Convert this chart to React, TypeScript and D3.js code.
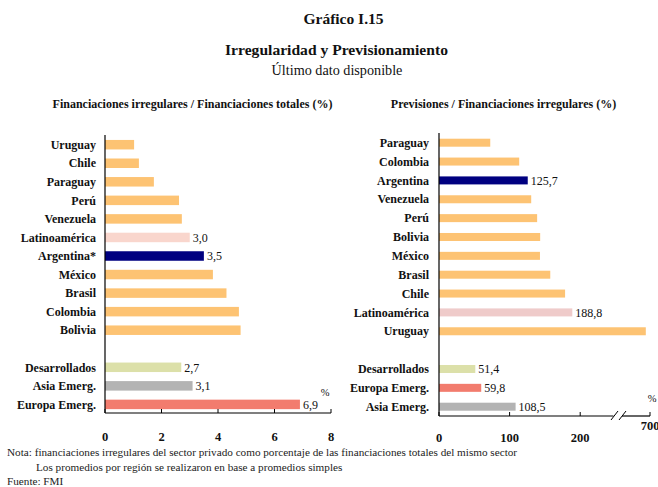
import React from "react";
import * as d3 from "d3";

const leftCategories = ["Uruguay", "Chile", "Paraguay", "Perú", "Venezuela", "Latinoamérica", "Argentina*", "México", "Brasil", "Colombia", "Bolivia", "", "Desarrollados", "Asia Emerg.", "Europa Emerg."];
const leftValues = [1.03, 1.2, 1.73, 2.62, 2.72, 3.0, 3.5, 3.82, 4.3, 4.74, 4.8, null, 2.7, 3.1, 6.9];
const leftLabels = ["", "", "", "", "", "3,0", "3,5", "", "", "", "", "", "2,7", "3,1", "6,9"];
const leftTicks = [0, 2, 4, 6, 8];

const rightCategories = ["Paraguay", "Colombia", "Argentina", "Venezuela", "Perú", "Bolivia", "México", "Brasil", "Chile", "Latinoamérica", "Uruguay", "", "Desarrollados", "Europa Emerg.", "Asia Emerg."];
const rightValues = [72.6, 113.6, 125.7, 130.6, 139, 143.3, 143, 157.6, 178.6, 188.8, 694, null, 51.4, 59.8, 108.5];
const rightLabels = ["", "", "125,7", "", "", "", "", "", "", "188,8", "", "", "51,4", "59,8", "108,5"];
const rightTicks = [0, 100, 200, 700];

const colorOrange = "#FDC373";
const colorLeft = ["o", "o", "o", "o", "o", "latL", "arg", "o", "o", "o", "o", "", "des", "asia", "eur"];
const colorRight = ["o", "o", "arg", "o", "o", "o", "o", "o", "o", "latR", "o", "", "des", "eur", "asia"];
const palette: Record<string, string> = {
  o: colorOrange,
  arg: "#000080",
  latL: "#F9D6CD",
  latR: "#EFCBCA",
  des: "#DCE0A9",
  asia: "#B3B3B3",
  eur: "#F27C6E",
};

const FONT = "'Liberation Serif', 'DejaVu Serif', serif";

export default function App() {
  const W = 658, H = 487;

  // left chart
  const xL = d3.scaleLinear().domain([0, 8]).range([105, 331]);
  const yL = d3.scalePoint<number>().domain(leftCategories.map((_, i) => i)).range([144.7, 404.4]);
  const baseL = 413;
  const barHL = 9.5;

  // right chart (broken axis)
  const xR = d3.scaleLinear().domain([0, 250, 660, 700]).range([439, 615.5, 622, 650]);
  const yR = d3.scalePoint<number>().domain(rightCategories.map((_, i) => i)).range([142.7, 406.7]);
  const baseR = 416;
  const barHR = 8;

  return (
    <svg width={W} height={H} style={{ position: "absolute", left: 0, top: 0, background: "#fff" }} fontFamily={FONT}>
      <text x={343.5} y={23.5} textAnchor="middle" fontWeight="bold" fontSize={15.5} fill="#111">Gráfico I.15</text>
      <text x={336.5} y={54.5} textAnchor="middle" fontWeight="bold" fontSize={15.6} fill="#111">Irregularidad y Previsionamiento</text>
      <text x={337} y={75} textAnchor="middle" fontSize={14.2} fill="#111">Último dato disponible</text>
      <text x={192.5} y={108} textAnchor="middle" fontWeight="bold" fontSize={12} fill="#111">Financiaciones irregulares / Financiaciones totales (%)</text>
      <text x={503.5} y={108} textAnchor="middle" fontWeight="bold" fontSize={12} fill="#111">Previsiones / Financiaciones irregulares (%)</text>

      {/* Left chart */}
      <g>
        {leftCategories.map((c, i) => {
          const v = leftValues[i];
          if (v === null) return null;
          const y = yL(i)!;
          return (
            <g key={"l" + i}>
              <rect x={xL(0)} y={y - barHL / 2} width={xL(v) - xL(0)} height={barHL} fill={palette[colorLeft[i]]} />
              <text x={96} y={y} dy="0.35em" textAnchor="end" fontWeight="bold" fontSize={12} fill="#111">{c}</text>
              {leftLabels[i] && (
                <text x={xL(v) + 3} y={y} dy="0.35em" fontSize={12} fill="#111">{leftLabels[i]}</text>
              )}
            </g>
          );
        })}
        <line x1={xL(0)} x2={xL(0)} y1={135} y2={baseL} stroke="#000" strokeWidth={1.2} />
        <line x1={xL(0)} x2={xL(8)} y1={baseL} y2={baseL} stroke="#000" strokeWidth={1.2} />
        {leftTicks.map((t) => (
          <g key={"lt" + t}>
            <line x1={xL(t)} x2={xL(t)} y1={baseL} y2={baseL - 4} stroke="#000" strokeWidth={1} />
            <text x={xL(t)} y={437} dy="0.35em" textAnchor="middle" fontWeight="bold" fontSize={12.5} fill="#111">{t}</text>
          </g>
        ))}
        <text x={325} y={392} dy="0.35em" textAnchor="middle" fontSize={10.5} fill="#111">%</text>
      </g>

      {/* Right chart */}
      <g>
        {rightCategories.map((c, i) => {
          const v = rightValues[i];
          if (v === null) return null;
          const y = yR(i)!;
          return (
            <g key={"r" + i}>
              <rect x={xR(0)} y={y - barHR / 2} width={xR(v) - xR(0)} height={barHR} fill={palette[colorRight[i]]} />
              <text x={429} y={y} dy="0.35em" textAnchor="end" fontWeight="bold" fontSize={12} fill="#111">{c}</text>
              {rightLabels[i] && (
                <text x={xR(v) + 3} y={y} dy="0.35em" fontSize={12} fill="#111">{rightLabels[i]}</text>
              )}
            </g>
          );
        })}
        <line x1={xR(0)} x2={xR(0)} y1={133} y2={baseR} stroke="#000" strokeWidth={1.2} />
        <line x1={xR(0)} x2={613.5} y1={baseR} y2={baseR} stroke="#000" strokeWidth={1.2} />
        <line x1={622} x2={xR(700)} y1={baseR} y2={baseR} stroke="#000" strokeWidth={1.2} />
        <line x1={611} y1={420} x2={618} y2={411} stroke="#000" strokeWidth={1} />
        <line x1={619} y1={420} x2={626} y2={411} stroke="#000" strokeWidth={1} />
        {rightTicks.map((t) => (
          <g key={"rt" + t}>
            <line x1={xR(t)} x2={xR(t)} y1={baseR} y2={baseR - 4} stroke="#000" strokeWidth={1} />
            <text x={xR(t)} y={t === 700 ? 426 : 438} dy="0.35em" textAnchor="middle" fontWeight="bold" fontSize={12.5} fill="#111">{t}</text>
          </g>
        ))}
        <text x={652} y={398} dy="0.35em" textAnchor="middle" fontSize={10.5} fill="#111">%</text>
      </g>

      {/* Notes */}
      <text x={7} y={456} fontSize={11.2} fill="#222">Nota: financiaciones irregulares del sector privado como porcentaje de las  financiaciones totales del mismo sector</text>
      <text x={36} y={471} fontSize={11.2} fill="#222">Los promedios por región se realizaron en base a promedios simples</text>
      <text x={7} y={485} fontSize={11.2} fill="#222">Fuente: FMI</text>
    </svg>
  );
}
